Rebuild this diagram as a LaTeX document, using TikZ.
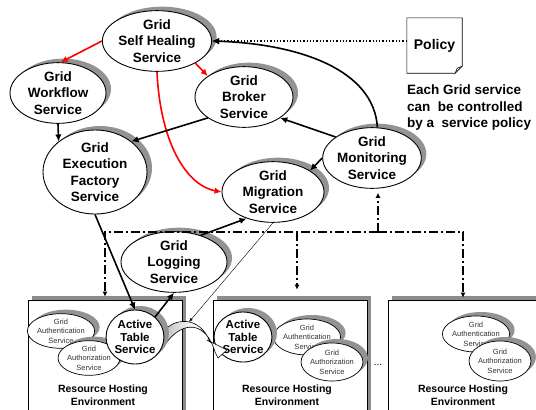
\documentclass[tikz,border=0pt]{standalone}
\usepackage{fontspec}
\setmainfont{Liberation Sans}
\usetikzlibrary{shapes.geometric,arrows.meta,shadows,calc}
\begin{document}
\begin{tikzpicture}[x=1pt,y=-1pt,
 shad/.style={drop shadow={shadow xshift=5pt,shadow yshift=4pt,fill=gray!85,opacity=1}},
 big/.style={ellipse,draw,fill=white,line width=0.9pt,inner sep=0pt,align=center,font=\bfseries\fontsize{13.5}{16.5}\selectfont,shad},
 mid/.style={big,font=\bfseries\fontsize{11.5}{12.5}\selectfont},
 small/.style={ellipse,draw,fill=white,line width=0.7pt,inner sep=0pt,align=center,font=\fontsize{7.5}{9.5}\selectfont,text=black!80,shad},
 hostbox/.style={rectangle,draw,fill=white,line width=0.7pt,minimum width=154pt,minimum height=130pt,drop shadow={shadow xshift=4pt,shadow yshift=4pt,fill=gray!90,opacity=1}},
 hostlabel/.style={align=center,font=\bfseries\fontsize{10.5}{13.5}\selectfont},
 arr/.style={line width=1.6pt,-{Latex[length=7pt,width=6.5pt]}},
 redarr/.style={arr,red},
 dd/.style={line width=1.4pt,dash pattern=on 9pt off 3pt on 2pt off 3pt,-{Latex[length=5pt,width=5pt]}},
]
\path[use as bounding box] (0,0) rectangle (536,410);
\clip (0,0) rectangle (536,410);

% hosting environments
\node[hostbox] (box1) at (105,365) {};
\node[hostbox] (box2) at (290,365) {};
\node[hostbox] (box3) at (465,365) {};
\node[hostlabel] (lab1) at (103,395) {Resource Hosting\\Environment};
\node[hostlabel] (lab2) at (287,395) {Resource Hosting\\Environment};
\node[hostlabel] (lab3) at (463,395) {Resource Hosting\\Environment};
\node[font=\fontsize{10}{12}\selectfont] (dots) at (378,365) {...};

% small services
\node[small,minimum width=56pt,minimum height=32pt] (au1) at (61,331) {Grid\\Authentication\\Service};
\node[small,minimum width=58pt,minimum height=32pt] (az1) at (89,358) {Grid\\Authorization\\Service};
\node[small,minimum width=58pt,minimum height=36pt] (au2) at (307,337) {Grid\\Authentication\\Service};
\node[small,minimum width=56pt,minimum height=38pt] (az2) at (332,362) {Grid\\Authorization\\Service};
\node[small,minimum width=56pt,minimum height=36pt] (au3) at (476,334) {Grid\\Authentication\\Service};
\node[small,minimum width=56pt,minimum height=40pt] (az3) at (500,361) {Grid\\Authorization\\Service};

\node[mid,minimum width=52pt,minimum height=50pt] (at2) at (243,337) {Active\\Table\\Service};

% curved block arrow
\draw[line width=0.6pt,left color=gray!55,right color=white,middle color=white]
  (162,334) .. controls (172,317) and (200,315) .. (210,342)
  -- (207,340) -- (227,350) -- (218,358) -- (215,352)
  .. controls (206,321) and (182,319) .. (164,346) -- cycle;

\node[mid,minimum width=56pt,minimum height=54pt] (at1) at (135,337) {Active\\Table\\Service};

% main services
\node[big,minimum width=102pt,minimum height=54pt] (sh) at (157,41) {Grid\\Self Healing\\Service};
\node[big,minimum width=96pt,minimum height=52pt] (wf) at (58,93) {Grid\\Workflow\\Service};
\node[big,minimum width=98pt,minimum height=54pt] (br) at (244,97) {Grid\\Broker\\Service};
\node[big,minimum width=104pt,minimum height=76pt] (ex) at (95,172) {Grid\\Execution\\Factory\\Service};
\node[big,minimum width=102pt,minimum height=58pt] (mi) at (273,192) {Grid\\Migration\\Service};
\node[big,minimum width=88pt,minimum height=54pt] (mo) at (372,158) {Grid\\Monitoring\\Service};
\node[big,minimum width=106pt,minimum height=56pt] (lg) at (174,262) {Grid\\Logging\\Service};

% policy
\node[minimum width=55pt,minimum height=55pt,font=\bfseries\fontsize{14}{16}\selectfont] (pol) at (434.5,45.5) {Policy};
\draw[line width=0.6pt] (pol.north west) -- (pol.north east) -- ($(pol.south east)+(0,-7)$)
  -- ($(pol.south east)+(-7,0)$) -- (pol.south west) -- cycle;
\draw[line width=0.6pt] ($(pol.south east)+(0,-7)$) -- ($(pol.south east)+(-5,-5)$) -- ($(pol.south east)+(-7,0)$);
\node[anchor=west,align=left,inner sep=0pt,font=\bfseries\fontsize{13.5}{16.5}\selectfont] (cap) at (407,108)
  {Each Grid service\\can\ \ be controlled\\by a\ \ service policy};

% connectors
\draw[redarr] (sh.west) -- (wf.85);
\draw[redarr] (sh.-30) -- (br.150);
\draw[redarr] (sh.south) .. controls (160,140) and (185,185) .. (mi.west);
\draw[arr] (wf.south) -- (ex.140);
\draw[arr] (br.210) -- (ex.40);
\draw[arr] (mo.150) -- (br.-30);
\draw[arr] (mo.80) .. controls (374,70) and (300,44) .. (sh.east);
\draw[arr] (mo.west) -- (mi.30);
\draw[arr] (lg.45) -- (mi.225);
\draw[arr] (ex.south) -- (at1.north);
\draw[arr] (at1.45) -- (lg.south);
\draw[line width=1.3pt,dotted,-{Latex[length=7pt,width=6.5pt]}] (sh.east -| pol.west) -- (sh.east);

\coordinate (cb) at (189,322);
\draw[line width=0.4pt,-{Latex[length=4pt,width=3pt]}] (mi.south) -- (cb);

\coordinate (j1) at (105,232);
\coordinate (j2) at (378,232);
\coordinate (j3) at (297,232);
\coordinate (j4) at (463,232);
\draw[dd,shorten >=4pt] (j2) -- (j2 |- mo.south);
\draw[dd,shorten >=3pt] (j2) -- (j1) -- (j1 |- box1.north);
\draw[dd,shorten >=2pt] (j2) -- (j4) -- (j4 |- box3.north);
\draw[dd,shorten >=10pt] (j3) -- (j3 |- box2.north);
\end{tikzpicture}
\end{document}
